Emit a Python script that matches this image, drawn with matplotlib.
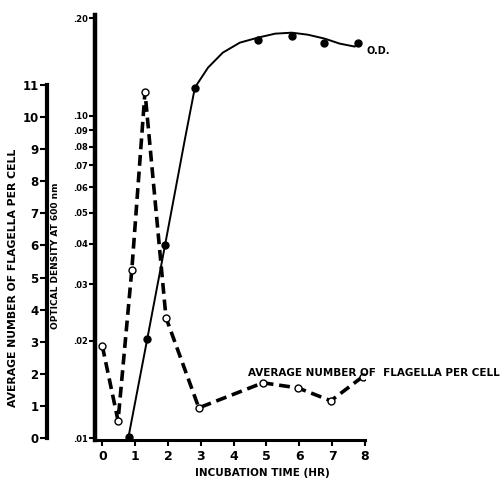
import matplotlib
matplotlib.use("Agg")
import matplotlib.pyplot as plt
from matplotlib.ticker import FixedLocator, FixedFormatter, NullLocator

plt.rcParams['font.family'] = ['DejaVu Sans']
plt.rcParams['font.weight'] = 'bold'

# Datos
flag_time = [0.0, 0.48, 0.9, 1.3, 1.94, 2.94, 4.89, 5.96, 6.96, 7.93]
flag_vals = [2.87, 0.54, 5.25, 10.78, 3.75, 0.94, 1.72, 1.56, 1.16, 1.91]

od_time = [0.8, 1.37, 1.91, 2.82, 4.74, 5.77, 6.75, 7.78]
od_vals = [0.0101, 0.0203, 0.0396, 0.122, 0.172, 0.177, 0.168, 0.168]

# curva ajustada de O.D. (puntos leidos sobre la linea continua)
od_fit_time = [0.8, 1.37, 1.91, 2.52, 2.82, 3.22, 3.67, 4.19, 4.74, 5.26,
               5.77, 6.26, 6.78, 7.23, 7.69, 7.78]
od_fit_vals = [0.0101, 0.0203, 0.0396, 0.0849, 0.1221, 0.1408, 0.1567, 0.1683,
               0.1744, 0.1794, 0.1807, 0.1781, 0.1731, 0.1671, 0.1636, 0.168]

od_ticks = [0.01, 0.02, 0.03, 0.04, 0.05, 0.06, 0.07, 0.08, 0.09, 0.10, 0.20]
od_labels = ['.01', '.02', '.03', '.04', '.05', '.06', '.07', '.08', '.09', '.10', '.20']
flag_ticks = list(range(0, 12))
time_ticks = list(range(0, 9))

fig = plt.figure(figsize=(5.04, 4.8), dpi=100)
ax = fig.add_axes([95 / 504, 40 / 480, 270 / 504, 425 / 480])

# eje O.D. (logaritmico)
ax.set_yscale('log')
ax.set_ylim(0.00986, 0.205)
ax.set_xlim(-0.222, 8.0)
ax.plot(od_fit_time, od_fit_vals, color='black', lw=1.4, zorder=3)
ax.plot(od_time, od_vals, 'o', color='black', ms=5, zorder=4)

ax.yaxis.set_major_locator(FixedLocator(od_ticks))
ax.yaxis.set_major_formatter(FixedFormatter(od_labels))
ax.yaxis.set_minor_locator(NullLocator())
ax.tick_params(axis='y', which='major', direction='out', length=4, width=1.5,
               labelsize=6, pad=1)
ax.set_xticks(time_ticks)
ax.set_xticklabels([str(t) for t in time_ticks])
ax.tick_params(axis='x', direction='out', length=4, width=1.5, labelsize=9, pad=3)
for s in ['top', 'right']:
    ax.spines[s].set_visible(False)
ax.spines['left'].set_linewidth(3.2)
ax.spines['bottom'].set_linewidth(2.2)
ax.set_ylabel('OPTICAL DENSITY AT 600 nm', fontsize=6.5, fontweight='bold')
ax.yaxis.set_label_coords(-0.13, 0.433)
ax.set_xlabel('INCUBATION TIME (HR)', fontsize=7.5, fontweight='bold')
ax.xaxis.set_label_coords((262 - 95) / 270, -0.066)

# eje de flagelos
ax2 = ax.twinx()
ax2.set_ylim(-0.062, 13.18)
ax2.plot(flag_time, flag_vals, color='black', lw=2.6, linestyle=(0, (3.0, 1.6)),
         marker='o', ms=5, mfc='white', mec='black', mew=1.0, zorder=3)
for s in ['top', 'right', 'bottom']:
    ax2.spines[s].set_visible(False)
ax2.spines['left'].set_visible(True)
ax2.spines['left'].set_position(('axes', -48 / 270))
ax2.spines['left'].set_bounds(0, 11)
ax2.spines['left'].set_linewidth(3.0)
ax2.yaxis.set_ticks_position('left')
ax2.yaxis.set_label_position('left')
ax2.set_yticks(flag_ticks)
ax2.set_yticklabels([str(v) for v in flag_ticks])
ax2.tick_params(axis='y', direction='out', length=5, width=1.5, labelsize=8.5, pad=1)
ax2.set_ylabel('AVERAGE NUMBER OF FLAGELLA PER CELL', fontsize=7.8, fontweight='bold')
ax2.yaxis.set_label_coords(-0.285, 0.381)

ax.text(8.05, 0.159, 'O.D.', fontsize=7, fontweight='bold', va='center', ha='left')
ax2.text(4.44, 2.02, 'AVERAGE NUMBER OF  FLAGELLA PER CELL', fontsize=7.5,
         fontweight='bold', va='center', ha='left')

fig.savefig('out.png', dpi=100)
